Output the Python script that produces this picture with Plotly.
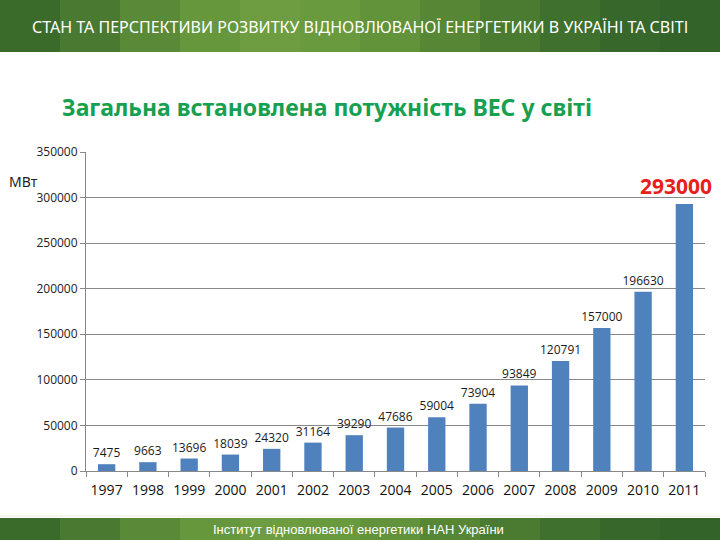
import plotly.graph_objects as go

years = ["1997", "1998", "1999", "2000", "2001", "2002", "2003", "2004",
         "2005", "2006", "2007", "2008", "2009", "2010", "2011"]
capacity_mw = [7475, 9663, 13696, 18039, 24320, 31164, 39290, 47686,
               59004, 73904, 93849, 120791, 157000, 196630, 293000]
labels = [str(v) for v in capacity_mw[:-1]] + [""]
highlight_label = "293000"

header_text = "СТАН ТА ПЕРСПЕКТИВИ РОЗВИТКУ ВІДНОВЛЮВАНОЇ ЕНЕРГЕТИКИ В УКРАЇНІ ТА СВІТІ"
chart_title = "Загальна встановлена потужність ВЕС у світі"
unit_label = "МВт"
footer_text = "Інститут відновлюваної енергетики НАН України"

band_colors = ["#3b6b2b", "#4a7a31", "#5a8a37", "#67973c", "#6d9d40", "#6a9a3e",
               "#62923a", "#578735", "#4b7b31", "#40702d", "#37672a", "#336329"]

L, R, T, B = 86, 15, 152, 69
PW, PH = 720 - L - R, 540 - T - B


def px_x(px):
    return (px - L) / PW


def px_y(py):
    return (540 - B - py) / PH


fig = go.Figure()
fig.add_trace(go.Bar(
    x=years, y=capacity_mw, text=labels, textposition="outside", constraintext="none",
    marker=dict(color="#4f81bd", line=dict(width=0)),
    textfont=dict(family="Open Sans", size=12, color="#1a1a1a"),
    cliponaxis=False, width=0.42,
))

shapes = []
n = len(band_colors)
for i, c in enumerate(band_colors):
    shapes.append(dict(type="rect", xref="paper", yref="paper", layer="below",
                       x0=px_x(i * 720 / n), x1=px_x((i + 1) * 720 / n + 1),
                       y0=px_y(52), y1=px_y(0), fillcolor=c, line=dict(width=0)))
    shapes.append(dict(type="rect", xref="paper", yref="paper", layer="below",
                       x0=px_x(i * 720 / n), x1=px_x((i + 1) * 720 / n + 1),
                       y0=px_y(540), y1=px_y(518), fillcolor=c, line=dict(width=0)))
shapes.append(dict(type="line", xref="paper", yref="paper",
                   x0=px_x(0), x1=px_x(720), y0=px_y(516), y1=px_y(516),
                   line=dict(color="#e6eedf", width=1)))

last_idx = len(years) - 1
annotations = [
    dict(text=header_text, xref="paper", yref="paper", x=px_x(360), y=px_y(27),
         xanchor="center", yanchor="middle",
         showarrow=False, font=dict(family="Noto Sans", size=16, color="white")),
    dict(text=footer_text, xref="paper", yref="paper", x=px_x(358), y=px_y(529),
         xanchor="center", yanchor="middle",
         showarrow=False, font=dict(family="Liberation Sans Narrow, Liberation Sans", size=13, color="white")),
    dict(text="<b>" + chart_title + "</b>", xref="paper", yref="paper", x=px_x(60), y=px_y(107),
         xanchor="left", yanchor="middle", showarrow=False,
         font=dict(family="Noto Sans", size=23, color="#16a050")),
    dict(text=unit_label, xref="paper", yref="paper", x=px_x(7), y=px_y(181),
         xanchor="left", yanchor="middle", showarrow=False,
         font=dict(family="Noto Sans", size=14, color="#222")),
    dict(text="<b>" + highlight_label + "</b>", x=last_idx, y=capacity_mw[-1], yanchor="bottom",
         xanchor="center", xshift=-8, yshift=2, showarrow=False,
         font=dict(family="Noto Sans", size=21, color="#e8201c")),
]

fig.update_layout(
    width=720, height=540, margin=dict(l=L, r=R, t=T, b=B),
    paper_bgcolor="white", plot_bgcolor="white", showlegend=False,
    shapes=shapes, annotations=annotations,
    xaxis=dict(type="category", range=[-0.5, last_idx + 0.5], showline=True, linecolor="#888",
               ticks="outside", tickson="boundaries", ticklen=5, tickcolor="#888",
               ticklabelstandoff=6,
               tickfont=dict(family="Open Sans", size=14, color="#111")),
    yaxis=dict(range=[0, 350000], dtick=50000, showgrid=True, gridcolor="#888",
               showline=True, linecolor="#888", ticks="outside", ticklen=5, tickcolor="#888",
               tickformat="d", zeroline=False,
               tickfont=dict(family="Open Sans", size=12, color="#222")),
)

fig.write_html("out.html", config={"displayModeBar": False},
               post_script="document.body.style.margin='0';")
